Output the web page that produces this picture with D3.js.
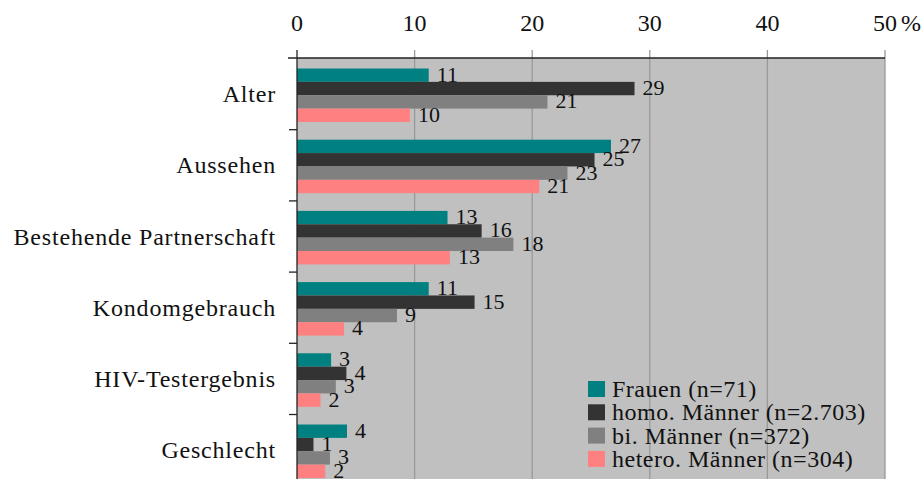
<!DOCTYPE html>
<html lang="de">
<head>
    <meta charset="UTF-8">
    <title>Ablehnungsgründe</title>
    <script src="https://d3js.org/d3.v7.min.js"></script>
</head>
<body>
    <div id="chart"></div>

    <script>
        // Data
        const categories = ['Alter', 'Aussehen', 'Bestehende Partnerschaft', 'Kondomgebrauch', 'HIV-Testergebnis', 'Geschlecht'];
        const seriesNames = ['Frauen (n=71)', 'homo. Männer (n=2.703)', 'bi. Männer (n=372)', 'hetero. Männer (n=304)'];
        const frauen = [11.2, 26.7, 12.8, 11.2, 2.9, 4.25];
        const homo = [28.7, 25.3, 15.7, 15.1, 4.2, 1.4];
        const bi = [21.3, 23.0, 18.4, 8.5, 3.3, 2.8];
        const hetero = [9.6, 20.6, 13.0, 4.0, 2.0, 2.4];
        const xTicks = [0, 10, 20, 30, 40, 50];

        const seriesValues = [frauen, homo, bi, hetero];
        const colors = ['#008080', '#333333', '#808080', '#ff8080'];

        const width = 922;
        const height = 479;
        const margin = { top: 58, right: 37, left: 297 };
        const band = 71.2;

        const svg = d3.select('#chart')
            .append('svg')
            .attr('width', width)
            .attr('height', height)
            .style('font-family', '"Liberation Serif", "Times New Roman", serif')
            .style('font-variant-numeric', 'oldstyle-nums');

        const x = d3.scaleLinear()
            .domain([0, 50])
            .range([margin.left, width - margin.right]);

        const y = d3.scaleBand()
            .domain(categories)
            .range([margin.top + 0.5, margin.top + 0.5 + band * categories.length]);

        const ySub = d3.scaleBand()
            .domain(seriesNames)
            .range([10, 63.5]);

        // plot background
        svg.append('rect')
            .attr('x', x(0))
            .attr('y', margin.top)
            .attr('width', x(50) - x(0))
            .attr('height', height - margin.top)
            .attr('fill', '#c0c0c0');

        // gridlines
        svg.selectAll('.grid')
            .data(xTicks.slice(1))
            .enter()
            .append('line')
            .attr('x1', d => x(d))
            .attr('x2', d => x(d))
            .attr('y1', margin.top - 8)
            .attr('y2', height)
            .attr('stroke', '#999999')
            .attr('stroke-width', 1.3);

        // bars
        const rows = [];
        categories.forEach((c, i) => {
            seriesNames.forEach((s, j) => {
                rows.push({ cat: c, series: s, value: seriesValues[j][i], color: colors[j] });
            });
        });

        svg.selectAll('.bar')
            .data(rows)
            .enter()
            .append('rect')
            .attr('class', 'bar')
            .attr('x', x(0))
            .attr('y', d => y(d.cat) + ySub(d.series))
            .attr('width', d => x(d.value) - x(0))
            .attr('height', ySub.bandwidth())
            .attr('fill', d => d.color);

        // value labels
        svg.selectAll('.val')
            .data(rows)
            .enter()
            .append('text')
            .attr('class', 'val')
            .attr('x', d => x(d.value) + 8)
            .attr('y', d => y(d.cat) + ySub(d.series) + ySub.bandwidth() / 2 + 6.5)
            .attr('font-size', 22)
            .attr('fill', '#111')
            .text(d => Math.round(d.value));

        // top axis
        svg.append('line')
            .attr('x1', x(0) - 9)
            .attr('x2', x(50))
            .attr('y1', margin.top)
            .attr('y2', margin.top)
            .attr('stroke', '#222')
            .attr('stroke-width', 1.3);

        svg.append('line')
            .attr('x1', x(0))
            .attr('x2', x(0))
            .attr('y1', margin.top - 8)
            .attr('y2', height)
            .attr('stroke', '#222')
            .attr('stroke-width', 1.3);

        svg.selectAll('.xlab')
            .data(xTicks)
            .enter()
            .append('text')
            .attr('x', d => x(d))
            .attr('y', 31)
            .attr('text-anchor', 'middle')
            .attr('font-size', 24)
            .attr('fill', '#111')
            .text(d => d);

        svg.append('text')
            .attr('x', x(50) + 16)
            .attr('y', 31)
            .attr('font-size', 24)
            .attr('fill', '#111')
            .text('%');

        // left ticks between groups
        svg.selectAll('.ytick')
            .data(categories.slice(1))
            .enter()
            .append('line')
            .attr('x1', x(0) - 8)
            .attr('x2', x(0))
            .attr('y1', d => y(d))
            .attr('y2', d => y(d))
            .attr('stroke', '#222')
            .attr('stroke-width', 1.3);

        svg.selectAll('.ylab')
            .data(categories)
            .enter()
            .append('text')
            .attr('x', 276)
            .attr('y', d => y(d) + y.bandwidth() / 2 + 8)
            .attr('text-anchor', 'end')
            .attr('font-size', 24)
            .attr('letter-spacing', 0.8)
            .attr('fill', '#111')
            .text(d => d);

        // legend
        const legend = svg.selectAll('.legend')
            .data(seriesNames)
            .enter()
            .append('g')
            .attr('class', 'legend')
            .attr('transform', (d, i) => `translate(588,${381 + i * 23.3})`);

        legend.append('rect')
            .attr('width', 17)
            .attr('height', 16)
            .attr('fill', (d, i) => colors[i]);

        legend.append('text')
            .attr('x', 24)
            .attr('y', 16)
            .attr('font-size', 24)
            .attr('letter-spacing', 0.5)
            .attr('fill', '#111')
            .text(d => d);
    </script>
</body>
<style>
    body {
        margin: 0;
        background: #fff;
    }
</style>
</html>
